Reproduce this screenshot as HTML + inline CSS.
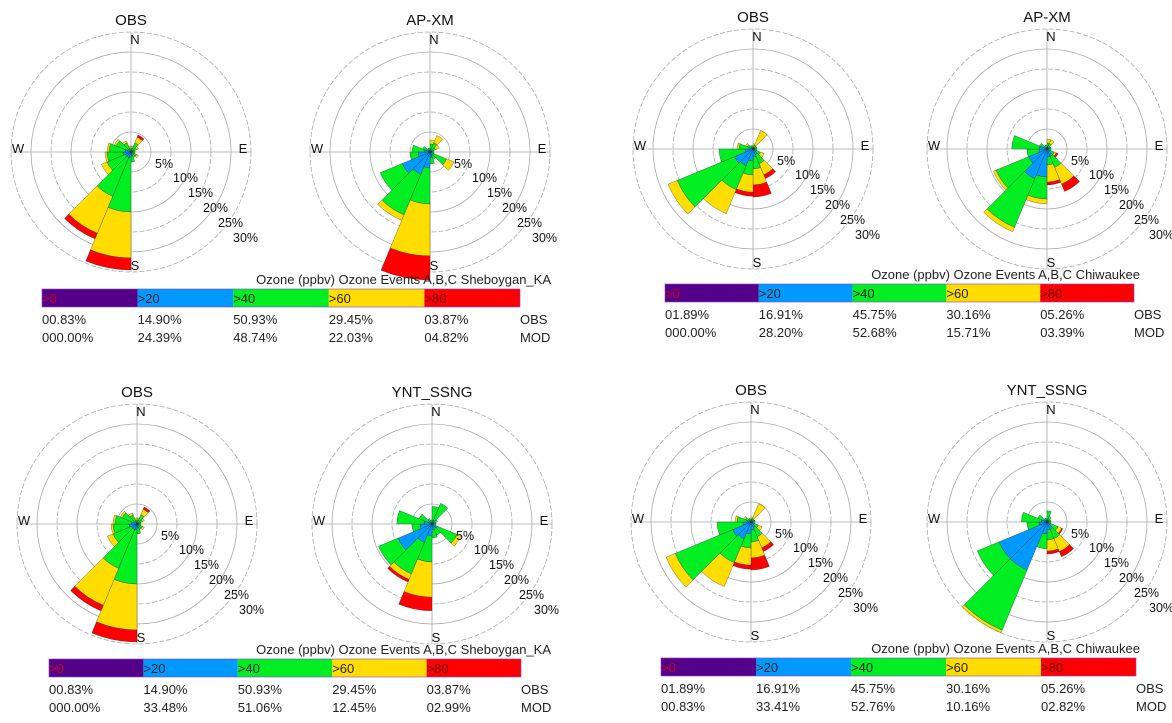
<!DOCTYPE html>
<html><head><meta charset="utf-8"><style>
html,body{margin:0;padding:0;background:#fff}
svg{display:block;font-family:"Liberation Sans",sans-serif}
</style></head><body>
<svg id="chart" width="1172" height="723" viewBox="0 0 1172 723"></svg>
<script>
// bins: >20 (blue), >40 (green), >60 (yellow), >80 (red); 16 sectors clockwise from N
const dirs=["N","NNE","NE","ENE","E","ESE","SE","SSE","S","SSW","SW","WSW","W","WNW","NW","NNW"];
const binNames=[">0",">20",">40",">60",">80"];
const binColors=["#550088","#0099ff","#00ee22","#ffdd00","#ff0000"];
// Rose 1: Sheboygan OBS
const r1_blue  =[0.5,0.5,0.5,0.5,0.5,0.5,0.5,1,1.5,1.5,1.5,2,1.5,1,0.5,0.5];
const r1_green =[0.5,2,1,0.5,0.5,1,1,1.5,13.5,10.5,5,4,4,3,2,0.5];
const r1_yellow=[0.5,1.5,0.5,0,0,0.5,0,0,11.5,10,1.5,0.5,0.5,0.5,0.5,0.5];
const r1_red   =[0,0.6,0,0,0,0,0,0,3,1.5,0,0,0,0,0,0];
// Rose 2: Sheboygan AP-XM
const r2_blue  =[0.5,0.5,0.5,0.5,0.5,1,1,1.5,4,6,7.5,3,1.5,1,0.5,0.5];
const r2_green =[1.5,2,1,0.5,0.5,3.5,1,1.5,9,11,6,2,3,1,0.5,0.5];
const r2_yellow=[1,2,1,0,0,2,0,0,13,1.5,0,0,0,0,0,0];
const r2_red   =[0,0,0,0,0,0,0,0,6,0,0,0,0,0,0,0];
// Rose 3: Chiwaukee OBS
const r3_blue  =[0.3,0.3,0.5,0.5,0.5,1,1.5,2,3,4.5,5,2,1,0.5,0.5,0.3];
const r3_green =[0.5,0.7,0.5,0.5,0.5,1,2.5,3,3.5,6.5,15.5,6.5,2.5,1,0.5,0.5];
const r3_yellow=[0.5,4,0,0,0,1,3,4,4.3,6.5,2.5,0,0.5,0.5,0,0];
const r3_red   =[0,0,0,0,0,0,1,3,1,0,0,0,0,0,0,0];
// Rose 4: Chiwaukee AP-XM
const r4_blue  =[0.5,0.5,0.5,0.5,0.5,1,2,2,7,8,5,2,2,1,0.5,0.5];
const r4_green =[1,1,0.5,0.5,0.5,1,3,2,5.5,13.2,8.8,3,6.8,1,0.5,0.5];
const r4_yellow=[1,1,0,0,0,0.5,4.5,4.3,1.2,1.2,0.7,0,0,0,0,0];
const r4_red   =[0,0,0,0,0,0.5,2,0.7,0,0,0,0,0,0,0,0];
// Rose 5: Sheboygan OBS
const r5_blue  =[0.5,0.5,0.5,0.5,0.5,0.5,0.5,1,1.5,1.5,1.5,2,1.5,1,0.5,0.5];
const r5_green =[0.5,2,1,0.5,0.5,1,1,1.5,13.5,10.5,5,4,4,3,2,0.5];
const r5_yellow=[0.5,1.5,0.5,0,0,0.5,0,0,11.5,10,1.5,0.5,0.5,0.5,0.5,0.5];
const r5_red   =[0,0.6,0,0,0,0,0,0,3,1.5,0,0,0,0,0,0];
// Rose 6: Sheboygan YNT_SSNG
const r6_blue  =[1,1,0.5,0.5,0.5,1.5,1,1.5,3,5,9.2,3,2,1,0.5,0.5];
const r6_green =[3.4,4.6,1,0.5,0.5,5.3,2,2,6.5,8.5,5.3,2,6.8,2.5,1,0.5];
const r6_yellow=[0,0,0,0,0,1,0,0,8.8,1.5,0,0,0,0,0,0];
const r6_red   =[0,0,0,0,0,0,0,0,3.4,0.7,0,0,0,0,0,0];
// Rose 7: Chiwaukee OBS
const r7_blue  =[0.3,0.3,0.5,0.5,0.5,1,1.5,2,3,4.5,5,2,1,0.5,0.5,0.3];
const r7_green =[0.5,0.7,0.5,0.5,0.5,1,2.5,3,3.5,6.5,15.5,6.5,2.5,1,0.5,0.5];
const r7_yellow=[0.5,4,0,0,0,1,3,4,4.3,6.5,2.5,0,0.5,0.5,0,0];
const r7_red   =[0,0,0,0,0,0,1,3,1,0,0,0,0,0,0,0];
// Rose 8: Chiwaukee YNT_SSNG
const r8_blue  =[0.5,0.5,0.5,0.5,0.5,1,2,2,3,13,13,2,1.5,1,0.5,0.5];
const r8_green =[2.3,1,0.5,0.5,0.5,2,2.5,2.5,3.7,16.3,5.9,3,4.9,1.5,0.5,0.5];
const r8_yellow=[0,0,0,0,0,1,3.5,2.8,0,0.7,0,0,0,0,0,0];
const r8_red   =[0,0,0,0,0,0.3,1.4,0.7,0,0,0,0,0,0,0,0];
const ringTicks=[5,10,15,20,25,30];
// legend values
const legA_obs=["00.83%","14.90%","50.93%","29.45%","03.87%"];
const legA_mod=["000.00%","24.39%","48.74%","22.03%","04.82%"];
const legB_obs=["01.89%","16.91%","45.75%","30.16%","05.26%"];
const legB_mod=["000.00%","28.20%","52.68%","15.71%","03.39%"];
const legC_obs=["00.83%","14.90%","50.93%","29.45%","03.87%"];
const legC_mod=["000.00%","33.48%","51.06%","12.45%","02.99%"];
const legD_obs=["01.89%","16.91%","45.75%","30.16%","05.26%"];
const legD_mod=["00.83%","33.41%","52.76%","10.16%","02.82%"];

const NS="http://www.w3.org/2000/svg";
const svg=document.getElementById('chart');
function mk(tag,attrs,parent){const e=document.createElementNS(NS,tag);for(const k in attrs)e.setAttribute(k,attrs[k]);(parent||svg).appendChild(e);return e;}
function txt(s,x,y,size,anchor,parent,fill){const t=mk('text',{x:x,y:y,'font-size':size,'text-anchor':anchor||'start',fill:fill||'#111'},parent);t.textContent=s;return t;}
const PX=4; // px per percent
function rScale(v){return v*PX;}
function pt(cx,cy,r,deg){const a=deg*Math.PI/180;return [cx+r*Math.sin(a),cy-r*Math.cos(a)];}
function sector(cx,cy,r0,r1,a0,a1){const p1=pt(cx,cy,r1,a0),p2=pt(cx,cy,r1,a1),p3=pt(cx,cy,r0,a1),p4=pt(cx,cy,r0,a0);
 return `M${p4[0]},${p4[1]}L${p1[0]},${p1[1]}A${r1},${r1} 0 0 1 ${p2[0]},${p2[1]}L${p3[0]},${p3[1]}`+(r0>0?`A${r0},${r0} 0 0 0 ${p4[0]},${p4[1]}`:'')+'Z';}

function rose(name,title,cx,cy,series){
 const g=mk('g',{});
 
 
 const t=txt(title,cx,cy-127,15,'middle',g);
 
 
 ringTicks.forEach((v,i)=>{
  const c=mk('circle',{cx:cx,cy:cy,r:rScale(v),fill:'none',stroke:'#aaa','stroke-width':0.8,'stroke-dasharray':(i%2===0)?'none':'5,2'},g);
  
  
 });
 const R=rScale(ringTicks[ringTicks.length-1]);
 mk('line',{x1:cx,y1:cy-R,x2:cx,y2:cy+R,stroke:'#aaa','stroke-width':0.8},g);
 mk('line',{x1:cx-R,y1:cy,x2:cx+R,y2:cy,stroke:'#aaa','stroke-width':0.8},g);
 const bars=mk('g',{},g);
 
 
 for(let k=0;k<16;k++){
  let r0=0;
  series.forEach((arr,b)=>{
   const v=arr[k]; if(v<=0) return;
   const r1=r0+v;
   const p=mk('path',{d:sector(cx,cy,rScale(r0),rScale(r1),k*22.5,(k+1)*22.5),fill:binColors[b+1],stroke:'#222','stroke-width':0.3},bars);
   
   
   r0=r1;
  });
 }
 [['N',4,-108],['S',4,118],['W',-113,1],['E',112,1]].forEach(d=>{
  const l=txt(d[0],cx+d[1],cy+d[2],13,'middle',g);
  
  
 });
 ringTicks.forEach((v,i)=>{
  const l=txt(v+'%',cx+24+(i===0?0:18+(i-1)*15),cy+16+(i===0?0:14+(i-1)*15),12.5,'start',g);
  
  
 });
}
function legend(name,x0,x1,y,titleRight,titleStr,obs,mod){
 const g=mk('g',{});
 
 
 const w=(x1-x0)/5;
 const tt=txt(titleStr,titleRight,y-5,13,'end',g,'#222');
 
 
 const lblColors=['#cc0022','#222','#222','#222','#660000'];
 binNames.forEach((b,i)=>{
  const r=mk('rect',{x:x0+i*w,y:y,width:w,height:18,fill:binColors[i]},g);
  
  
  const l=txt(b,x0+i*w,y+14,13,'start',g,lblColors[i]);
  
  
  const o=txt(obs[i],x0+i*w,y+35,13,'start',g,'#222');
  
  
  const m=txt(mod[i],x0+i*w,y+53,13,'start',g,'#222');
  
  
 });
 mk('rect',{x:x0,y:y,width:x1-x0,height:18,fill:'none',stroke:'#8844cc','stroke-width':0.6},g);
 const a=txt('OBS',x1,y+35,13,'start',g,'#222');
 
 
 const b=txt('MOD',x1,y+53,13,'start',g,'#222');
 
 
}
rose('rose-sheboygan-obs-1','OBS',131,152,[r1_blue,r1_green,r1_yellow,r1_red]);
rose('rose-sheboygan-apxm','AP-XM',430,152,[r2_blue,r2_green,r2_yellow,r2_red]);
rose('rose-chiwaukee-obs-1','OBS',753,149,[r3_blue,r3_green,r3_yellow,r3_red]);
rose('rose-chiwaukee-apxm','AP-XM',1047,149,[r4_blue,r4_green,r4_yellow,r4_red]);
rose('rose-sheboygan-obs-2','OBS',137,524,[r5_blue,r5_green,r5_yellow,r5_red]);
rose('rose-sheboygan-ynt','YNT_SSNG',432,524,[r6_blue,r6_green,r6_yellow,r6_red]);
rose('rose-chiwaukee-obs-2','OBS',751,522,[r7_blue,r7_green,r7_yellow,r7_red]);
rose('rose-chiwaukee-ynt','YNT_SSNG',1047,522,[r8_blue,r8_green,r8_yellow,r8_red]);
legend('legend-sheboygan-apxm',42,520,289,551,'Ozone (ppbv) Ozone Events A,B,C Sheboygan_KA',legA_obs,legA_mod);
legend('legend-chiwaukee-apxm',665,1134,284,1140,'Ozone (ppbv) Ozone Events A,B,C Chiwaukee',legB_obs,legB_mod);
legend('legend-sheboygan-ynt',49,521,659,551,'Ozone (ppbv) Ozone Events A,B,C Sheboygan_KA',legC_obs,legC_mod);
legend('legend-chiwaukee-ynt',661,1136,658,1140,'Ozone (ppbv) Ozone Events A,B,C Chiwaukee',legD_obs,legD_mod);
</script>
</body></html>
